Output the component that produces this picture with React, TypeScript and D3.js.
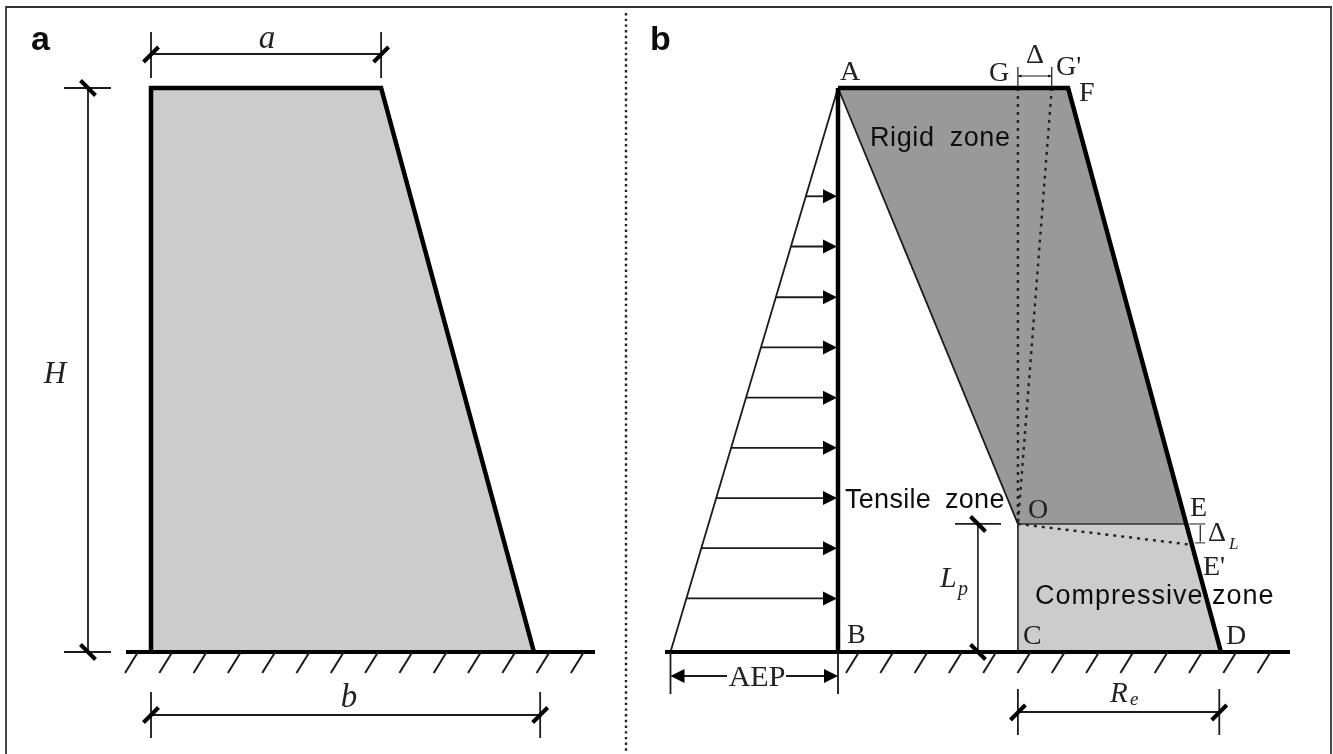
import React from "react";
import * as d3 from "d3";

// wall geometry, in units where the wall height is 10
const wallHeight = 10;
const crestWidth = 4.08;
const baseWidth = 6.79;
const baseDimension = 6.9;
const neutralOffset = 3.19; // O measured from the back of the wall
const plasticLength = 2.27; // Lp
const contactWidth = 3.57; // Re
const topShift = 0.6; // delta
const shortening = 0.37; // delta L
const pressureWidth = 2.97; // AEP
const arrowHeights = [8.08, 7.19, 6.29, 5.4, 4.51, 3.62, 2.73, 1.84, 0.95];
const hatchCountA = 14;
const hatchCountB = 13;

const width = 1333;
const height = 754;
const ink = "#1a1a1a";
const lightGrey = "#cccccc";
const darkGrey = "#999999";

const y = d3.scaleLinear().domain([0, wallHeight]).range([652, 88]);
const unit = (y(0) - y(1)) as number;
const xA = d3.scaleLinear().domain([0, 10]).range([151, 151 + unit * 10]);
const xB = d3.scaleLinear().domain([0, 10]).range([838, 838 + unit * 10]);
const path = d3.line<[number, number]>();

// x of the sloped front face at a given height
const frontAt = (h: number) =>
  crestWidth + ((baseWidth - crestWidth) * (wallHeight - h)) / wallHeight;
const pressureAt = (h: number) => (pressureWidth * (wallHeight - h)) / wallHeight;

const Thin = ({ d, w = 1.8, color = ink, dash }: { d: [number, number][]; w?: number; color?: string; dash?: string }) => (
  <path d={path(d) as string} fill="none" stroke={color} strokeWidth={w} strokeDasharray={dash} />
);

// dimension tick: a short thick slash across the point
const Slash = ({ cx, cy, flip = false }: { cx: number; cy: number; flip?: boolean }) => (
  <path
    d={path(flip
      ? [[cx - 7.5, cy - 7.5], [cx + 7.5, cy + 7.5]]
      : [[cx - 7.5, cy + 7.5], [cx + 7.5, cy - 7.5]]) as string}
    stroke="#000"
    strokeWidth={4}
    fill="none"
  />
);

const Ground = ({ from, to, firstHatch, count }: { from: number; to: number; firstHatch: number; count: number }) => (
  <g>
    <Thin d={[[from, y(0)], [to, y(0)]]} w={4} color="#000" />
    {d3.range(count).map((i) => (
      <Thin
        key={i}
        d={[[firstHatch + i * 34.3, y(0)], [firstHatch + i * 34.3 - 13, y(0) + 21]]}
        w={2}
      />
    ))}
  </g>
);

const serif = "'Liberation Serif', serif";
const sans = "'Liberation Sans', sans-serif";

const Label = ({ x, y, size = 28, children, anchor = "start", italic = false }: any) => (
  <text x={x} y={y} fontFamily={serif} fontSize={size} textAnchor={anchor} fontStyle={italic ? "italic" : "normal"} fill="#222">
    {children}
  </text>
);

const Zone = ({ x, y, spacing, gap, children }: any) => (
  <text x={x} y={y} fontFamily={sans} fontSize={27} letterSpacing={spacing} wordSpacing={gap} fill="#111">
    {children}
  </text>
);

const Head = ({ tip, yy, dir = 1 }: { tip: number; yy: number; dir?: number }) => (
  <path d={path([[tip, yy], [tip - dir * 14, yy - 7], [tip - dir * 14, yy + 7]]) as string + "Z"} fill="#000" />
);

export default function App() {
  const aCrest = xA(crestWidth);
  const aBase = xA(baseWidth);
  const aDim = xA(baseDimension);

  const A: [number, number] = [xB(0), y(wallHeight)];
  const B: [number, number] = [xB(0), y(0)];
  const F: [number, number] = [xB(crestWidth), y(wallHeight)];
  const D: [number, number] = [xB(baseWidth), y(0)];
  const O: [number, number] = [xB(neutralOffset), y(plasticLength)];
  const C: [number, number] = [xB(neutralOffset), y(0)];
  const E: [number, number] = [xB(frontAt(plasticLength)), y(plasticLength)];
  const Ep: [number, number] = [xB(frontAt(plasticLength - shortening)), y(plasticLength - shortening)];
  const G: [number, number] = [xB(neutralOffset), y(wallHeight)];
  const Gp: [number, number] = [xB(neutralOffset + topShift), y(wallHeight)];
  const pressureBase = xB(-pressureWidth);

  return (
    <svg width={width} height={height} style={{ position: "fixed", left: 0, top: 0, background: "#fff" }}>
      <defs>
        <filter id="soft" x="0" y="0" width="100%" height="100%" filterUnits="userSpaceOnUse">
          <feGaussianBlur stdDeviation="0.45" />
        </filter>
      </defs>
      <g filter="url(#soft)">
        {/* frame, open at the bottom */}
        <path d={path([[6, height], [6, 7], [1331, 7], [1331, height]]) as string} fill="none" stroke="#333" strokeWidth={1.8} />
        <Thin d={[[626, 13], [626, height]]} w={2.4} dash="2.4 3.3" color="#222" />

        <text x={31} y={50} fontFamily={sans} fontWeight="bold" fontSize={34} fill="#111">a</text>
        <text x={650} y={50} fontFamily={sans} fontWeight="bold" fontSize={34} fill="#111">b</text>

        {/* panel a */}
        <path
          d={path([[xA(0), y(0)], [xA(0), y(wallHeight)], [aCrest, y(wallHeight)], [aBase, y(0)]]) as string + "Z"}
          fill={lightGrey}
        />
        <Thin d={[[xA(0), y(0)], [xA(0), y(wallHeight)], [aCrest, y(wallHeight)], [aBase, y(0)]]} w={4.5} color="#000" />
        <Ground from={126} to={595} firstHatch={138} count={hatchCountA} />

        <Thin d={[[xA(0), 54], [aCrest, 54]]} />
        <Thin d={[[xA(0), 32], [xA(0), 78]]} />
        <Thin d={[[aCrest, 32], [aCrest, 78]]} />
        <Slash cx={xA(0)} cy={54.5} />
        <Slash cx={aCrest} cy={54.5} />
        <Label x={267} y={48} size={33} anchor="middle" italic>a</Label>

        <Thin d={[[88, y(wallHeight)], [88, y(0)]]} />
        <Thin d={[[64, y(wallHeight)], [111, y(wallHeight)]]} />
        <Thin d={[[64, y(0)], [111, y(0)]]} />
        <Slash cx={88} cy={y(wallHeight)} flip />
        <Slash cx={88} cy={y(0)} flip />
        <Label x={55} y={383} size={31} anchor="middle" italic>H</Label>

        <Thin d={[[xA(0), 715], [aDim, 715]]} />
        <Thin d={[[xA(0), 692], [xA(0), 738]]} />
        <Thin d={[[aDim, 692], [aDim, 738]]} />
        <Slash cx={xA(0)} cy={715} />
        <Slash cx={aDim} cy={715} />
        <Label x={349} y={707} size={33} anchor="middle" italic>b</Label>

        {/* panel b: zones */}
        <path d={path([A, F, E, O]) as string + "Z"} fill={darkGrey} />
        <path d={path([O, E, D, C]) as string + "Z"} fill={lightGrey} />
        <Thin d={[A, O]} w={1.8} />
        <Thin d={[O, E]} w={1.6} color="#333" />
        <Thin d={[O, C]} w={1.8} color="#333" />

        {/* earth pressure triangle and arrows */}
        <Thin d={[A, [pressureBase, y(0)]]} w={1.8} />
        {arrowHeights.map((h) => (
          <g key={h}>
            <Thin d={[[xB(-pressureAt(h)), y(h)], [xB(0) - 12, y(h)]]} w={1.8} />
            <Head tip={xB(0) - 1} yy={y(h)} />
          </g>
        ))}

        {/* rotated positions */}
        <Thin d={[G, O]} w={2.4} dash="3 5" color="#222" />
        <Thin d={[Gp, O]} w={2.4} dash="3 5" color="#222" />
        <Thin d={[O, Ep]} w={2.4} dash="3 5" color="#222" />

        {/* wall outline */}
        <Thin d={[B, A]} w={4.5} color="#000" />
        <Thin d={[A, F, D]} w={4.5} color="#000" />
        <Ground from={665} to={1290} firstHatch={859} count={hatchCountB} />

        {/* delta at the top */}
        <Thin d={[[G[0], 67], [G[0], 87]]} w={1.2} />
        <Thin d={[[Gp[0], 67], [Gp[0], 87]]} w={1.2} />
        <Thin d={[[G[0], 76], [Gp[0], 76]]} w={1.2} />
        <path d={path([[G[0] + 0.5, 76], [G[0] + 3.5, 74.5], [G[0] + 3.5, 77.5]]) as string + "Z"} fill="#000" />
        <path d={path([[Gp[0] - 0.5, 76], [Gp[0] - 3.5, 74.5], [Gp[0] - 3.5, 77.5]]) as string + "Z"} fill="#000" />

        {/* delta L */}
        <Thin d={[[E[0] + 3, E[1]], [E[0] + 19, E[1]]]} w={1.2} color="#444" />
        <Thin d={[[Ep[0] + 3, Ep[1] - 2], [E[0] + 19, Ep[1] - 2]]} w={1.2} color="#444" />
        <Thin d={[[E[0] + 14, E[1] + 1], [E[0] + 14, Ep[1] - 3]]} w={1.2} />

        {/* Lp */}
        <Thin d={[[xB(neutralOffset) - 40, y(plasticLength)], [xB(neutralOffset) - 40, y(0)]]} w={1.8} color="#333" />
        <Thin d={[[955, y(plasticLength)], [1001, y(plasticLength)]]} />
        <Slash cx={978} cy={y(plasticLength)} flip />
        <Slash cx={978} cy={y(0)} flip />

        {/* Re */}
        <Thin d={[[xB(neutralOffset), 712], [xB(neutralOffset + contactWidth), 712]]} />
        <Thin d={[[xB(neutralOffset), 689], [xB(neutralOffset), 735]]} />
        <Thin d={[[xB(neutralOffset + contactWidth), 689], [xB(neutralOffset + contactWidth), 735]]} />
        <Slash cx={xB(neutralOffset)} cy={712.5} />
        <Slash cx={xB(neutralOffset + contactWidth)} cy={712.5} />

        {/* AEP */}
        <Thin d={[[pressureBase, y(0)], [pressureBase, 694]]} />
        <Thin d={[[xB(0), y(0)], [xB(0), 694]]} />
        <Thin d={[[pressureBase + 10, 676], [727, 676]]} />
        <Thin d={[[786, 676], [xB(0) - 10, 676]]} />
        <Head tip={pressureBase} yy={676} dir={-1} />
        <Head tip={xB(0)} yy={676} />
        <Label x={757} y={686} size={30} anchor="middle">AEP</Label>

        {/* point labels */}
        <Label x={850} y={80} anchor="middle">A</Label>
        <Label x={999} y={81} anchor="middle">G</Label>
        <Label x={1056} y={75}>G'</Label>
        <Label x={1079} y={101}>F</Label>
        <Label x={1035} y={63} anchor="middle">Δ</Label>
        <Label x={1028} y={518}>O</Label>
        <Label x={1190} y={516}>E</Label>
        <Label x={1208} y={541}>Δ</Label>
        <Label x={1229} y={549} size={17} italic>L</Label>
        <Label x={1203} y={575}>E'</Label>
        <Label x={1023} y={644}>C</Label>
        <Label x={1226} y={644}>D</Label>
        <Label x={847} y={643}>B</Label>
        <Label x={940} y={587} size={30} italic>L</Label>
        <Label x={958} y={595} size={20} italic>p</Label>
        <Label x={1110} y={702} size={29} italic>R</Label>
        <Label x={1130} y={705} size={19} italic>e</Label>

        <Zone x={870} y={146} spacing={0.6} gap={7}>Rigid zone</Zone>
        <Zone x={845} y={508} spacing={0.3} gap={6}>Tensile zone</Zone>
        <Zone x={1035} y={604} spacing={1} gap={0}>Compressive zone</Zone>
      </g>
    </svg>
  );
}
